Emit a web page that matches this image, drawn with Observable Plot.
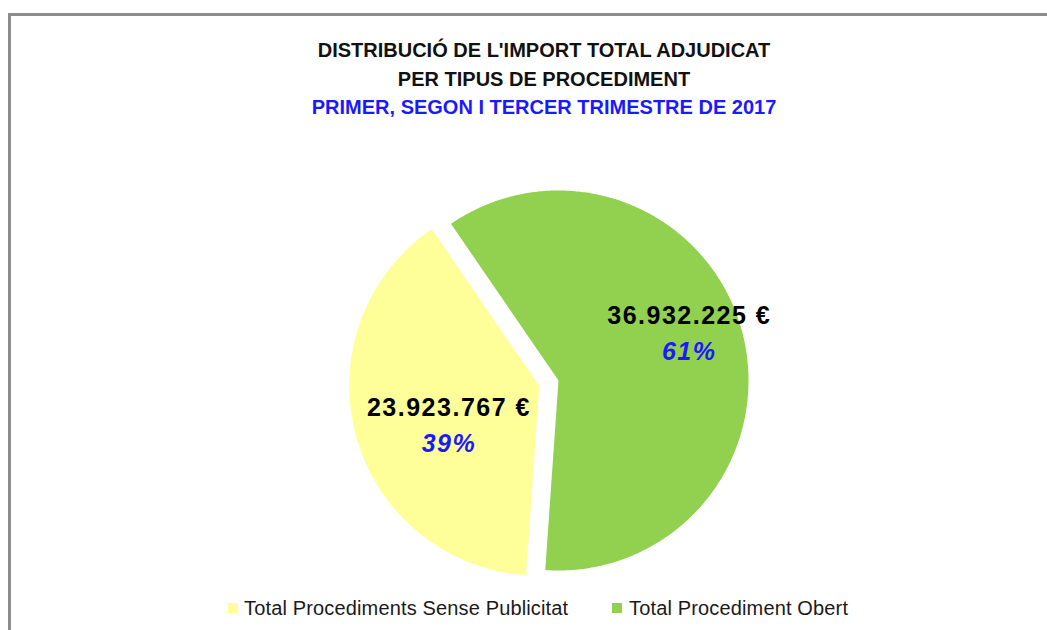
<!DOCTYPE html>
<html>
<head>
<meta charset="utf-8">
<script src="https://cdn.jsdelivr.net/npm/d3@7"></script>
<script src="https://cdn.jsdelivr.net/npm/@observablehq/plot@0.6"></script>
<style>
  html, body { margin: 0; padding: 0; background: #fff; }
  #wrap { position: relative; width: 1047px; height: 630px; overflow: hidden; font-family: "Liberation Sans", Arial, sans-serif; }
  #frame { position: absolute; left: 8px; top: 13px; width: 1100px; height: 700px; border-top: 3px solid #8c8c8c; border-left: 3px solid #8c8c8c; box-sizing: border-box; }
  .t { position: absolute; left: 0; width: 1088px; text-align: center; font-size: 20px; line-height: 20px; font-weight: bold; white-space: nowrap; }
  #chart { position: absolute; left: 0; top: 0; }
  #chart svg text { letter-spacing: 1.5px; }
  .lg { position: absolute; top: 598px; font-size: 20px; line-height: 20px; color: #1a1a1a; white-space: nowrap; letter-spacing: 0.15px; }
  .sw { position: absolute; top: 603px; width: 10px; height: 10px; }
</style>
</head>
<body>
<div id="wrap">
  <div id="frame"></div>
  <div id="chart"></div>
</div>
<script>
// ---- data ----
const titleLines = ["DISTRIBUCIÓ DE L'IMPORT TOTAL ADJUDICAT", "PER TIPUS DE PROCEDIMENT"];
const subtitle = "PRIMER, SEGON I TERCER TRIMESTRE DE 2017";
const categories = ["Total Procediments Sense Publicitat", "Total Procediment Obert"];
const values = [23923767, 36932225];
const colors = ["#ffff99", "#92d050"];

// ---- geometry helpers (pie layout from values) ----
const R = 190;                 // px radius
const cx = 558, cy = 380;      // px center of pie
const W = 1047, H = 630;
const deg = Math.PI / 180;
const start = 184 * deg;
const explode = [0.105, 0];
const labelRadius = [0.52, 0.73];
const labelTurn = [-8.7 * deg, -4.3 * deg];

const total = d3.sum(values);
const arcs = d3.pie().sort(null).value(d => d).startAngle(start).endAngle(start + 2 * Math.PI)(values);

const poly = [];
const labels = [];
arcs.forEach((a, i) => {
  const mid = (a.startAngle + a.endAngle) / 2;
  const ox = explode[i] * Math.sin(mid), oy = explode[i] * Math.cos(mid);
  poly.push({cat: categories[i], x: ox, y: oy});
  const n = Math.ceil((a.endAngle - a.startAngle) / (0.5 * deg));
  for (let k = 0; k <= n; k++) {
    const t = a.startAngle + (a.endAngle - a.startAngle) * k / n;
    poly.push({cat: categories[i], x: ox + Math.sin(t), y: oy + Math.cos(t)});
  }
  const la = mid + labelTurn[i];
  labels.push({
    cat: categories[i],
    x: ox + labelRadius[i] * Math.sin(la),
    y: oy + labelRadius[i] * Math.cos(la),
    value: values[i],
    pct: values[i] / total
  });
});

const loc = d3.formatLocale({decimal: ",", thousands: ".", grouping: [3], currency: ["", " €"]});
const fmtVal = v => loc.format(",.0f")(v) + " €";
const fmtPct = p => Math.round(p * 100) + "%";

const plot = Plot.plot({
  width: W, height: H,
  margin: 0,
  x: {domain: [-cx / R, (W - cx) / R], axis: null},
  y: {domain: [-(H - cy) / R, cy / R], axis: null},
  color: {domain: categories, range: colors},
  style: {background: "transparent", overflow: "visible"},
  marks: [
    Plot.line(poly, {x: "x", y: "y", z: "cat", fill: "cat", stroke: "none", curve: "linear-closed"}),
    Plot.text(labels, {x: "x", y: "y", text: d => fmtVal(d.value), dy: -18, fontSize: 25, fontWeight: "bold",
      fill: "#000", fontFamily: "Liberation Sans, Arial, sans-serif", lineAnchor: "middle"}),
    Plot.text(labels, {x: "x", y: "y", text: d => fmtPct(d.pct), dy: 18, fontSize: 25, fontWeight: "bold",
      fontStyle: "italic", fill: "#1a1aff", fontFamily: "Liberation Sans, Arial, sans-serif", lineAnchor: "middle"})
  ]
});
document.getElementById("chart").appendChild(plot);

// ---- titles ----
const wrap = document.getElementById("wrap");
const tops = [40, 69];
titleLines.forEach((s, i) => {
  const d = document.createElement("div");
  d.className = "t"; d.textContent = s; d.style.top = tops[i] + "px"; d.style.color = "#111";
  wrap.appendChild(d);
});
const st = document.createElement("div");
st.className = "t"; st.textContent = subtitle; st.style.top = "97px"; st.style.color = "#1a1aff";
wrap.appendChild(st);

// ---- legend ----
const swX = [228, 612], txX = [244, 629];
categories.forEach((c, i) => {
  const s = document.createElement("div");
  s.className = "sw"; s.style.left = swX[i] + "px"; s.style.background = colors[i];
  wrap.appendChild(s);
  const t = document.createElement("div");
  t.className = "lg"; t.style.left = txX[i] + "px"; t.textContent = c;
  wrap.appendChild(t);
});
</script>
</body>
</html>
